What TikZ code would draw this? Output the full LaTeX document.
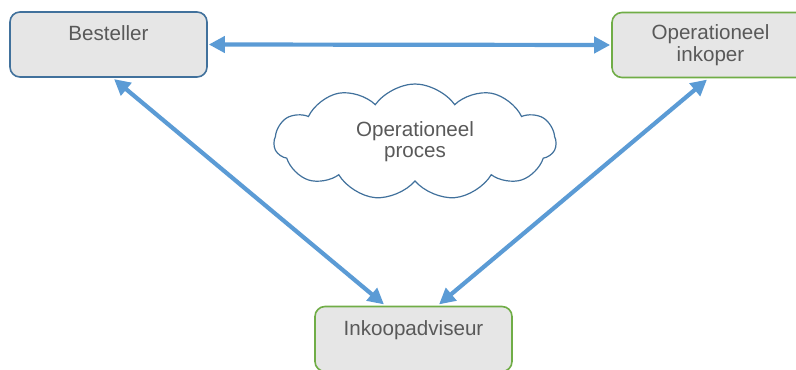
\documentclass[tikz,border=0pt]{standalone}
\usepackage{fontspec}
\setmainfont{Liberation Sans}
\usetikzlibrary{arrows.meta,shapes.symbols}
\definecolor{pijl}{RGB}{91,155,213}
\definecolor{blauwrand}{RGB}{65,113,156}
\definecolor{groenrand}{RGB}{112,173,71}
\definecolor{vulling}{RGB}{230,230,230}
\definecolor{tekst}{RGB}{89,89,89}
\tikzset{
  rol/.style={draw, line width=0.8pt, fill=vulling, rounded corners=5pt,
    minimum width=98.5pt, minimum height=32.5pt, align=center, text=tekst,
    font=\fontsize{10.3}{11}\selectfont},
  relatie/.style={draw=pijl, line width=2.1pt,
    {Triangle[length=8pt,width=8pt]}-{Triangle[length=8pt,width=8pt]}}
}
\begin{document}
\begin{tikzpicture}[x=0.5pt, y=0.5pt]
    \useasboundingbox (0,0) rectangle (796,369);
    % rollen
    \node [rol, draw=blauwrand] (besteller) at (108.5,324.5) {Besteller\\\mbox{}};
    \node [rol, draw=groenrand] (inkoper) at (710.5,324) {Operationeel\\inkoper};
    \node [rol, draw=groenrand] (adviseur) at (413.5,30) {Inkoopadviseur\\\mbox{}};
    % proces
    \node [cloud, cloud puffs=11, cloud puff arc=110, aspect=2.4, draw=blauwrand,
      line width=0.6pt, fill=white, minimum width=141pt, minimum height=58pt,
      align=center, text=tekst, font=\fontsize{10.3}{10.5}\selectfont]
      (proces) at (415,227) {Operationeel\\proces};
    % relaties
    \draw [relatie, shorten <=0.5pt, shorten >=0.5pt] (besteller.east) -- (inkoper.west);
    \draw [relatie, shorten <=1pt, shorten >=1pt] ([xshift=2pt]besteller.south) -- ([xshift=-14pt]adviseur.north);
    \draw [relatie, shorten <=1pt, shorten >=1pt] ([xshift=-1pt]inkoper.south) -- ([xshift=12pt]adviseur.north);
\end{tikzpicture}
\end{document}
